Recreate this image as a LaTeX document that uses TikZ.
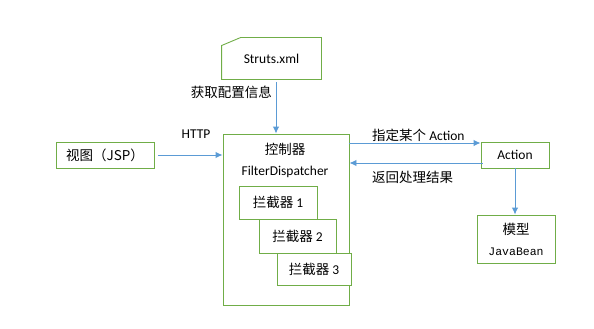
\documentclass[tikz,border=0pt]{standalone}
\usepackage{fontspec}
\setmainfont{Carlito}
\newfontfamily\cjk{Noto Sans CJK SC}
\newfontfamily\beanfont{Liberation Mono}
\usepackage{tikz}
\usetikzlibrary{arrows.meta}
\definecolor{boxdraw}{HTML}{70AD47}
\definecolor{flowcolor}{HTML}{5B9BD5}
\definecolor{textcolor}{HTML}{000000}
\tikzset{
  >=Latex,
  box/.style={
    draw=boxdraw,
    fill=white,
    line width=0.9pt,
    inner sep=0pt,
    align=center,
    text=textcolor,
    font=\fontsize{13.5}{21}\selectfont
  },
  flow/.style={
    draw=flowcolor,
    line width=0.9pt,
    -{Latex[length=7pt,width=6.5pt]}
  },
  caption/.style={
    font=\fontsize{13.5}{21}\selectfont,
    text=textcolor,
    inner sep=0pt,
    align=center
  }
}

\begin{document}
\begin{tikzpicture}[x=1pt,y=-1pt]
  \useasboundingbox (0,0) rectangle (594,329);

  % config file (outline drawn with a cut corner)
  \node[box,draw=none,fill=none,minimum width=99pt,minimum height=41pt] (struts) at (271.5,58.5) {Struts.xml};
  \draw[boxdraw,line width=0.9pt] ([yshift=-8pt]struts.north west) -- ([xshift=19pt]struts.north west)
    -- (struts.north east) -- (struts.south east) -- (struts.south west) -- cycle;

  % controller and interceptors
  \node[box,minimum width=126pt,minimum height=171pt] (ctrl) at (286,219.5) {};
  \node[caption] (ctrl-title) at (285,160.5) {{\cjk 控制器}\\FilterDispatcher};
  \node[box,minimum width=78pt,minimum height=33pt] (I-1) at (278,202.5) {{\cjk 拦截器} 1};
  \node[box,minimum width=77pt,minimum height=34pt] (I-2) at (297.5,236) {{\cjk 拦截器} 2};
  \node[box,minimum width=74pt,minimum height=32pt] (I-3) at (314,269) {{\cjk 拦截器} 3};

  \node[box,minimum width=98pt,minimum height=26pt] (view) at (105,155) {\cjk 视图（JSP）};
  \node[box,minimum width=68pt,minimum height=26pt] (action) at (515,155) {Action};
  \node[box,minimum width=78pt,minimum height=48pt] (model) at (516,239) {{\cjk 模型}\\{\beanfont\fontsize{11.5}{21}\selectfont JavaBean}};

  \draw[flow,shorten <=3pt] ([xshift=4.5pt]struts.south) -- ([xshift=4.5pt]struts.south |- ctrl.north);
  \draw[flow,shorten <=4pt] (view.east) -- (view.east -| ctrl.west);
  \draw[flow] ([yshift=12pt]action.west -| ctrl.east) -- ([yshift=12pt]action.west);
  \draw[flow,shorten <=-2pt] ([yshift=-8pt]action.west) -- ([yshift=-8pt]action.west -| ctrl.east);
  \draw[flow] (action.south) -- (action.south |- model.north);

  \node[caption,anchor=east] (get-config) at (272,92) {\cjk 获取配置信息};
  \node[caption] (http) at (196,134) {HTTP};
  \node[caption,anchor=west] (pick-action) at (372,135) {{\cjk 指定某个} Action};
  \node[caption,anchor=west] (give-back) at (372,177) {\cjk 返回处理结果};
\end{tikzpicture}
\end{document}
